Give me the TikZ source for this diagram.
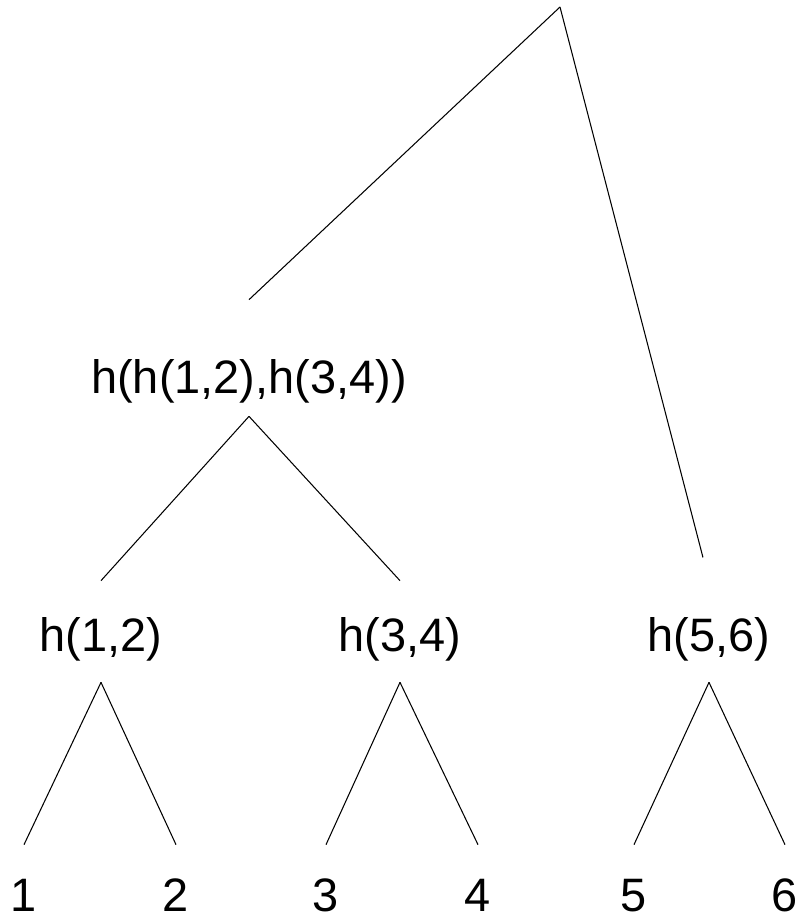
\documentclass[tikz,border=0pt]{standalone}
\usepackage{fontspec}
\setmainfont{Liberation Sans}

\begin{document}
\begin{tikzpicture}[
    x=0.02cm, y=-0.02cm,
    hashnode/.style={
        anchor=base,
        inner sep=0pt,
        text height=1.4cm,
        text depth=0.62cm,
        font=\fontsize{26.7}{32}\selectfont
    },
    leafnode/.style={
        anchor=base,
        inner sep=0pt,
        text height=1.32cm,
        font=\fontsize{26.7}{32}\selectfont
    },
    branch/.style={
        line width=0.6pt,
        black
    }
]

% Canvas
\useasboundingbox (0,0) rectangle (806,920);

% Root
\coordinate (root) at (560,7);

% Inner hashes
\node[hashnode, text depth=0.46cm] (h1234) at (249,393) {h(h(1,2),h(3,4))};
\node[hashnode] (h12) at (101,651) {h(1,2)};
\node[hashnode] (h34) at (400,651) {h(3,4)};
\node[hashnode] (h56) at (709,651) {h(5,6)};

% Leaves
\node[leafnode] (l1) at (24,911) {1};
\node[leafnode] (l2) at (176,911) {2};
\node[leafnode] (l3) at (326,911) {3};
\node[leafnode] (l4) at (478,911) {4};
\node[leafnode] (l5) at (634,911) {5};
\node[leafnode] (l6) at (785,911) {6};

% Branches from the root
\draw[branch] (root) -- ([yshift=0.46cm]h1234.north);
\draw[branch, shorten >=0.48cm] (root) -- (h56.north);

% Branches below
\draw[branch] (h1234.south) -- (h12.north);
\draw[branch] (h1234.south) -- (h34.north);
\foreach \p/\a/\b in {h12/l1/l2, h34/l3/l4, h56/l5/l6} {
    \draw[branch] (\p.south) -- (\a.north);
    \draw[branch] (\p.south) -- (\b.north);
}

\end{tikzpicture}
\end{document}
